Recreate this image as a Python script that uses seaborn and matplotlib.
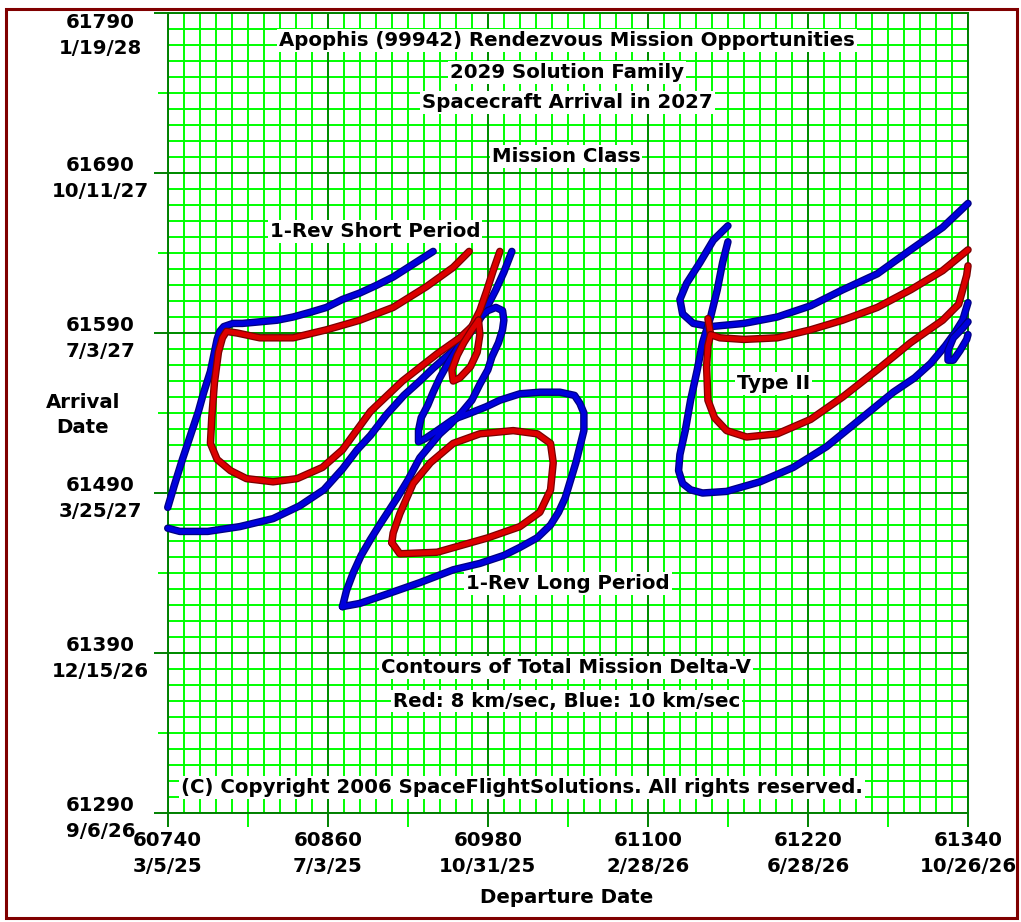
import numpy as np
import matplotlib
matplotlib.use("Agg")
import matplotlib.pyplot as plt
import matplotlib.patheffects as pe
from matplotlib.ticker import FixedLocator
from matplotlib.patches import Rectangle
import seaborn as sns

# ---- axis ticks (MJD with calendar date) ----
x_ticks = [60740, 60860, 60980, 61100, 61220, 61340]
x_dates = ["3/5/25", "7/3/25", "10/31/25", "2/28/26", "6/28/26", "10/26/26"]
y_ticks = [61290, 61390, 61490, 61590, 61690, 61790]
y_dates = ["9/6/26", "12/15/26", "3/25/27", "7/3/27", "10/11/27", "1/19/28"]

# ---- 10 km/sec contours (departure MJD, arrival MJD) ----
blue_short_dep = [60939, 60924, 60909, 60897, 60884, 60871, 60859, 60847, 60834, 60822,
                  60809, 60796, 60789, 60782, 60779, 60777, 60775, 60772, 60767, 60763,
                  60757, 60751, 60745, 60740]
blue_short_arr = [61641, 61633, 61625, 61620, 61615, 61611, 61606, 61603, 61600, 61598,
                  61597, 61596, 61596, 61594, 61591, 61586, 61578, 61566, 61553, 61541,
                  61526, 61511, 61495, 61481]

blue_diag_dep = [60740, 60749, 60770, 60794, 60819, 60839, 60857, 60871, 60882, 60892,
                 60904, 60917, 60929, 60939, 60954, 60965, 60972, 60978, 60986, 60992, 60998]
blue_diag_arr = [61468, 61466, 61466, 61469, 61474, 61482, 61492, 61505, 61517, 61526,
                 61539, 61551, 61560, 61568, 61579, 61588, 61596, 61604, 61617, 61628, 61641]

blue_long_dep = [60871, 60884, 60905, 60929, 60954, 60974, 60992, 61004, 61017, 61027,
                 61033, 61038, 61042, 61046, 61049, 61052, 61052, 61049, 61045, 61034,
                 61019, 61004, 60989, 60979, 60967, 60954, 60942, 60933, 60928, 60928,
                 60930, 60935, 60939, 60944, 60950, 60956, 60961, 60967, 60973, 60980,
                 60986, 60991, 60992, 60991, 60988, 60983, 60980, 60974, 60968, 60961,
                 60952, 60944, 60937, 60929, 60920, 60912, 60905, 60898, 60892, 60885,
                 60879, 60874, 60871]
blue_long_arr = [61419, 61421, 61427, 61434, 61442, 61446, 61451, 61456, 61462, 61470,
                 61478, 61487, 61498, 61509, 61519, 61529, 61540, 61546, 61551, 61553,
                 61553, 61552, 61548, 61544, 61540, 61536, 61529, 61524, 61522, 61529,
                 61537, 61545, 61553, 61562, 61571, 61579, 61586, 61593, 61599, 61604,
                 61606, 61604, 61598, 61592, 61584, 61575, 61567, 61558, 61548, 61541,
                 61533, 61527, 61520, 61512, 61498, 61487, 61478, 61469, 61461, 61451,
                 61440, 61429, 61419]

blue_t2_upper_dep = [61160, 61149, 61139, 61129, 61124, 61126, 61134, 61147, 61172, 61197,
                     61222, 61246, 61272, 61297, 61321, 61340]
blue_t2_upper_arr = [61657, 61648, 61634, 61621, 61611, 61602, 61596, 61594, 61596, 61600,
                     61607, 61617, 61627, 61642, 61656, 61671]

blue_t2_lower_dep = [61160, 61156, 61152, 61147, 61141, 61137, 61132, 61128, 61124, 61123,
                     61126, 61132, 61141, 61159, 61184, 61209, 61234, 61259, 61284, 61300,
                     61312, 61323, 61330, 61336, 61340]
blue_t2_lower_arr = [61647, 61634, 61617, 61600, 61584, 61567, 61548, 61529, 61514, 61504,
                     61496, 61492, 61490, 61491, 61497, 61506, 61519, 61536, 61553, 61562,
                     61571, 61582, 61590, 61598, 61609]

blue_t2_hook_dep = [61340, 61336, 61329, 61325, 61325, 61329, 61334, 61339, 61340]
blue_t2_hook_arr = [61597, 61593, 61587, 61579, 61573, 61573, 61579, 61586, 61589]

# ---- 8 km/sec contours ----
red_short_dep = [60966, 60954, 60934, 60909, 60884, 60859, 60834, 60809, 60792, 60784,
                 60781, 60778, 60775, 60773, 60772, 60777, 60787, 60799, 60819, 60837,
                 60856, 60871, 60892, 60916, 60942, 60959, 60968, 60974, 60979, 60984, 60989]
red_short_arr = [61641, 61631, 61619, 61606, 61598, 61592, 61587, 61587, 61590, 61591,
                 61587, 61578, 61559, 61537, 61521, 61511, 61504, 61499, 61497, 61499,
                 61506, 61517, 61541, 61560, 61577, 61587, 61594, 61604, 61616, 61629, 61641]

red_hook_dep = [60973, 60974, 60972, 60967, 60959, 60954, 60953, 60957, 60962, 60968, 60973]
red_hook_arr = [61598, 61589, 61578, 61569, 61562, 61560, 61567, 61576, 61584, 61592, 61598]

red_long_dep = [60908, 60914, 60942, 60980, 61004, 61019, 61027, 61029, 61027, 61017,
                60999, 60974, 60954, 60937, 60924, 60914, 60909, 60908]
red_long_arr = [61459, 61452, 61453, 61462, 61469, 61478, 61492, 61509, 61521, 61527,
                61529, 61527, 61521, 61509, 61496, 61477, 61465, 61459]

red_t2_spur_dep = [61145, 61147]
red_t2_spur_arr = [61599, 61589]

red_t2_dep = [61340, 61321, 61297, 61272, 61246, 61222, 61197, 61172, 61154, 61147,
              61145, 61144, 61145, 61150, 61159, 61174, 61197, 61222, 61246, 61272,
              61297, 61321, 61333, 61336, 61339, 61340]
red_t2_arr = [61642, 61629, 61617, 61606, 61598, 61592, 61587, 61586, 61587, 61589,
              61582, 61569, 61548, 61537, 61529, 61525, 61527, 61536, 61550, 61567,
              61584, 61598, 61608, 61617, 61626, 61632]

sns.set_style("white")
plt.rcParams["font.family"] = ["DejaVu Sans"]
plt.rcParams["font.weight"] = "bold"
plt.rcParams["text.color"] = "black"
FS = 14.2

fig = plt.figure(figsize=(10.21, 9.22), dpi=100)
ax = fig.add_axes([0.1643, 0.1182, 0.7838, 0.8677])

XMIN, XMAX = 60740, 61340
YMIN, YMAX = 61290, 61790
ax.set_xlim(XMIN, XMAX)
ax.set_ylim(YMIN, YMAX)

BRIGHT = "#00ff00"
DARK = "#008000"

# fine grid: 12 days across, 10 days up
ax.vlines(np.arange(XMIN, XMAX + 1, 12), YMIN, YMAX, colors=BRIGHT, lw=1.4, zorder=0.2)
ax.hlines(np.arange(YMIN, YMAX + 1, 10), XMIN, XMAX, colors=BRIGHT, lw=1.4, zorder=0.2)

ax.set_axisbelow(True)
ax.grid(which="major", color=DARK, lw=1.3)

ax.set_xticks(x_ticks)
ax.set_xticklabels([f"{t}\n{d}" for t, d in zip(x_ticks, x_dates)], fontsize=FS,
                   fontweight="bold", linespacing=1.45)
ax.set_yticks(y_ticks)
ax.set_yticklabels([f"{t}\n{d}" for t, d in zip(y_ticks, y_dates)], fontsize=FS,
                   fontweight="bold", linespacing=1.45)
ax.xaxis.set_minor_locator(FixedLocator([t + 60 for t in x_ticks[:-1]]))
ax.yaxis.set_minor_locator(FixedLocator([t + 50 for t in y_ticks[:-1]]))

ax.tick_params(which="both", bottom=True, left=True, top=False, right=False, direction="out")
ax.tick_params(which="major", length=10, width=1.4, color=DARK, labelcolor="black")
ax.tick_params(which="minor", length=10, width=1.4, color=BRIGHT)
ax.tick_params(axis="x", which="major", pad=3)
ax.tick_params(axis="y", which="major", pad=38.5)
ax.tick_params(axis="y", which="minor", length=7)
for lbl in ax.get_yticklabels():
    lbl.set_horizontalalignment("center")
    lbl.set_multialignment("center")
ax.get_yticklabels()[-1].set_verticalalignment("top")

for sp in ax.spines.values():
    sp.set_color(DARK)
    sp.set_linewidth(1.4)
    sp.set_visible(True)

ax.set_xlabel("Departure Date", fontsize=FS, fontweight="bold", va="center", color="black")
ax.xaxis.set_label_coords(0.499, -0.105)
ax.set_ylabel("Arrival\nDate", fontsize=FS, fontweight="bold", rotation=0, color="black",
              ha="center", va="center", multialignment="center", linespacing=1.45)
ax.yaxis.set_label_coords(-0.106, 0.4975)

RED, RED_EDGE = "#dd0000", "#7a0000"
BLUE, BLUE_EDGE = "#0000dd", "#000080"

def contour(dep, arr, color, edge):
    sns.lineplot(x=dep, y=arr, sort=False, estimator=None, color=color,
                 lw=3.6, ax=ax, zorder=3)
    line = ax.lines[-1]
    line.set_clip_on(False)
    line.set_solid_capstyle("round")
    line.set_solid_joinstyle("round")
    line.set_path_effects([pe.Stroke(linewidth=5.4, foreground=edge), pe.Normal()])

for dep, arr in [(blue_short_dep, blue_short_arr), (blue_diag_dep, blue_diag_arr),
                 (blue_long_dep, blue_long_arr), (blue_t2_upper_dep, blue_t2_upper_arr),
                 (blue_t2_lower_dep, blue_t2_lower_arr), (blue_t2_hook_dep, blue_t2_hook_arr)]:
    contour(dep, arr, BLUE, BLUE_EDGE)

for dep, arr in [(red_short_dep, red_short_arr), (red_hook_dep, red_hook_arr),
                 (red_long_dep, red_long_arr), (red_t2_spur_dep, red_t2_spur_arr),
                 (red_t2_dep, red_t2_arr)]:
    contour(dep, arr, RED, RED_EDGE)

box = dict(facecolor="white", edgecolor="none", boxstyle="square,pad=0.1")
notes = [
    (61039.5, 61773, "Apophis (99942) Rendezvous Mission Opportunities"),
    (61039.5, 61753, "2029 Solution Family"),
    (61039.5, 61734, "Spacecraft Arrival in 2027"),
    (61038.7, 61700.6, "Mission Class"),
    (60895.5, 61653.7, "1-Rev Short Period"),
    (61194, 61558.7, "Type II"),
    (61040, 61433.7, "1-Rev Long Period"),
    (61038.7, 61381.2, "Contours of Total Mission Delta-V"),
    (61039, 61360, "Red: 8 km/sec, Blue: 10 km/sec"),
    (61005.7, 61306.2, "(C) Copyright 2006 SpaceFlightSolutions. All rights reserved."),
]
for x, y, s in notes:
    ax.text(x, y, s, ha="center", va="center", fontsize=FS, fontweight="bold",
            color="black", bbox=box, zorder=4)

fig.patches.append(Rectangle((6 / 1021, 4 / 922), 1011 / 1021, 909 / 922,
                             transform=fig.transFigure, fill=False,
                             edgecolor="#800000", lw=2.2))

fig.savefig("out.png", dpi=100)
